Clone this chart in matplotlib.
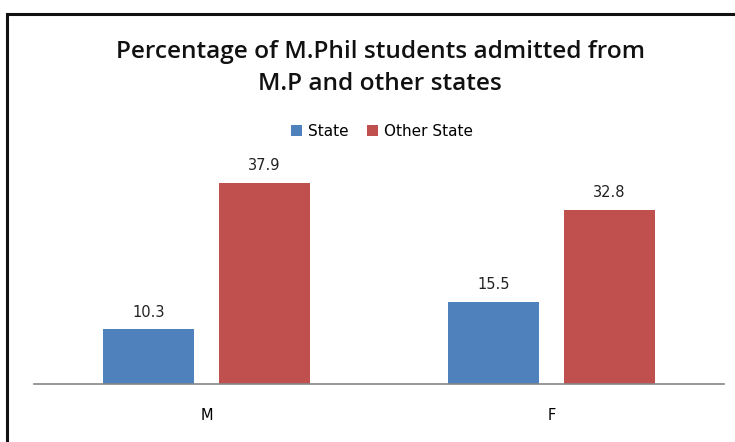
import matplotlib
matplotlib.use("Agg")
import matplotlib.pyplot as plt
from matplotlib.patches import Rectangle
import numpy as np

categories = ["M", "F"]
series_names = ["State", "Other State"]
state_values = [10.3, 15.5]
other_values = [37.9, 32.8]
colors = ["#4F81BD", "#C0504D"]

title = "Percentage of M.Phil students admitted from\nM.P and other states"

W, H = 735, 442
fig = plt.figure(figsize=(W / 100, H / 100), dpi=100)
fig.patch.set_facecolor("white")

# outer chart frame (top and left edges visible)
fig.patches.append(Rectangle((7 / W, -0.2), 1.2, 1 - 14 / H + 0.2,
                             transform=fig.transFigure, fill=False,
                             edgecolor="#111111", linewidth=2.2, zorder=5))

ax = fig.add_axes([34 / W, 1 - 384 / H, (724 - 34) / W, (384 - 172) / H])
x = np.arange(len(categories))
width = 0.266
offset = 0.168

for vals, off, col, name in [(state_values, -offset, colors[0], series_names[0]),
                             (other_values, offset, colors[1], series_names[1])]:
    bars = ax.bar(x + off, vals, width, color=col, label=name, zorder=2)
    for b, v in zip(bars, vals):
        ax.annotate(f"{v}", (b.get_x() + b.get_width() / 2, v),
                    xytext=(0, 7), textcoords="offset points",
                    ha="center", va="bottom", fontsize=10.5,
                    family="DejaVu Sans", color="#222222")

ax.set_xlim(-0.5, 1.5)
ax.set_ylim(0, 40)
for s in ["top", "right", "left"]:
    ax.spines[s].set_visible(False)
ax.spines["bottom"].set_color("#868686")
ax.spines["bottom"].set_linewidth(1.2)
ax.set_yticks([])
ax.set_xticks(x)
ax.set_xticklabels(categories, fontsize=10.5, family="DejaVu Sans")
ax.tick_params(axis="x", length=0, pad=17)

fig.text(380 / W, 1 - 68 / H, title, ha="center", va="center",
         fontsize=17.6, fontweight="semibold", family="Open Sans",
         linespacing=1.5, color="#111111")

handles, labels = ax.get_legend_handles_labels()
fig.legend(handles, labels, loc="center", bbox_to_anchor=(382 / W, 1 - 131 / H),
           ncol=2, frameon=False, handlelength=0.7,
           handleheight=0.7, handletextpad=0.4, columnspacing=1.2,
           prop={"family": "DejaVu Sans", "size": 11})

fig.savefig("out.png", dpi=100)
